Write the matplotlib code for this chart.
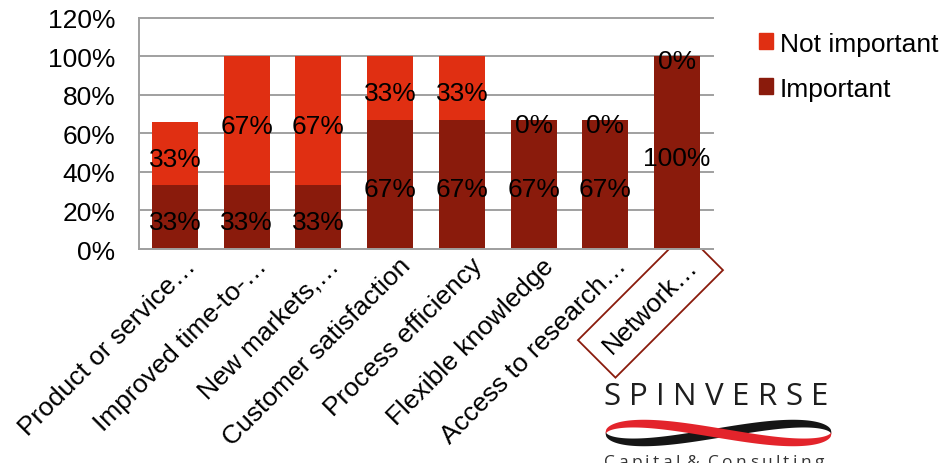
import numpy as np
import matplotlib
matplotlib.use("Agg")
import matplotlib.pyplot as plt
from matplotlib.patches import Patch
from matplotlib.transforms import ScaledTranslation, Bbox, TransformedBbox

plt.rcParams['font.family'] = ['Liberation Sans', 'DejaVu Sans']

categories = [
    "Product or service\u2026",
    "Improved time-to-\u2026",
    "New markets,\u2026",
    "Customer satisfaction",
    "Process efficiency",
    "Flexible knowledge",
    "Access to research\u2026",
    "Network\u2026",
]
important = [33, 33, 33, 67, 67, 67, 67, 100]
not_important = [33, 67, 67, 33, 33, 0, 0, 0]
y_ticks = [0, 20, 40, 60, 80, 100, 120]

c_imp = "#8A1B0C"
c_not = "#E02F12"
grid_c = "#A0A0A0"
FS = 19

W, H = 950, 464
fig = plt.figure(figsize=(W / 100, H / 100), dpi=100)
ax_bottom = 1 - 250 / H
ax = fig.add_axes([139 / W, ax_bottom, (713 - 139) / W, (250 - 18.5) / H])

x = np.arange(len(categories))
ax.bar(x, important, width=0.64, color=c_imp, label="Important", zorder=2)
ax.bar(x, not_important, width=0.64, bottom=important, color=c_not,
       label="Not important", zorder=2)

# segment value labels at the middle of each segment
lab_tr = ax.transData + ScaledTranslation(0, -5 / 100, fig.dpi_scale_trans)
for xi, a, b in zip(x, important, not_important):
    ax.text(xi, a / 2, f"{a}%", ha="center", va="center", fontsize=FS,
            color="black", zorder=3, transform=lab_tr)
    ax.text(xi, a + b / 2, f"{b}%", ha="center", va="center", fontsize=FS,
            color="black", zorder=3, transform=lab_tr)

ax.set_xlim(-0.5, len(categories) - 0.5)
ax.set_ylim(0, 120)
ax.set_yticks(y_ticks)
ax.set_yticklabels([f"{v}%" for v in y_ticks], fontsize=FS)
ax.tick_params(axis="y", length=0, pad=17)
ax.yaxis.grid(True, color=grid_c, linewidth=1.4, zorder=0)
for t in ax.yaxis.get_gridlines():
    t.set_clip_on(False)
ax.set_axisbelow(True)

ax.set_xticks(x)
ax.set_xticklabels(categories, rotation=45, ha="right", va="top",
                   rotation_mode="anchor", fontsize=FS)
ax.tick_params(axis="x", length=0, pad=3)
shift = ScaledTranslation(6 / 72, 0, fig.dpi_scale_trans)
for lbl in ax.get_xticklabels():
    lbl.set_transform(lbl.get_transform() + shift)

# highlight frame around the last category, hidden above the axis line
last = ax.get_xticklabels()[-1]
last.set_bbox(dict(boxstyle="square,pad=0.55", fc="none", ec=c_imp, lw=1.3))
below = TransformedBbox(Bbox([[0, 0], [1, ax_bottom]]), fig.transFigure)
last.get_bbox_patch().set_clip_box(below)
last.get_bbox_patch().set_clip_on(True)

for s in ("top", "right"):
    ax.spines[s].set_visible(False)
for s in ("left", "bottom"):
    ax.spines[s].set_color(grid_c)
    ax.spines[s].set_linewidth(1.4)

handles = [Patch(color=c_not, label="Not important"),
           Patch(color=c_imp, label="Important")]
fig.legend(handles=handles, loc="upper left",
           bbox_to_anchor=(748 / W, 1 - 22 / H), frameon=False,
           fontsize=FS, handlelength=0.55, handleheight=0.55,
           handletextpad=0.25, labelspacing=0.8, borderaxespad=0)

# company logo: spaced wordmark, twisted ribbon and tagline
renderer = fig.canvas.get_renderer()


def spaced_text(word, x0, y, size, gap, color, weight="normal", va="baseline"):
    xp = x0
    for ch in word:
        if ch == " ":
            xp += size * 0.35
            continue
        t = fig.text(xp / W, 1 - y / H, ch, fontsize=size, color=color,
                     ha="left", va=va, family=["Open Sans", "DejaVu Sans"],
                     fontweight=weight)
        bb = t.get_window_extent(renderer)
        xp += bb.width + gap


spaced_text("SPINVERSE", 603, 405, 22.5, 8.5, "#1E1E1E", weight="normal")

lax = fig.add_axes([603 / W, 1 - 449 / H, (833 - 603) / W, (449 - 418) / H])
lax.set_axis_off()
v = np.linspace(-1, 1, 600)
env = np.sqrt(np.clip(1 - v ** 2, 0, None))
path = -v * env * 1.2
thick = 0.18 + 0.45 * env
lax.fill_between(v, -path - thick / 2, -path + thick / 2, color="#151515", lw=0)
lax.fill_between(v, path - thick / 2, path + thick / 2, color="#E3242B", lw=0)
lax.set_xlim(-1.02, 1.02)
lax.set_ylim(-1, 1)

spaced_text("Capital & Consulting", 604, 455, 12.5, 3.3, "#333333", va="top")

fig.savefig("out.png", dpi=100)
